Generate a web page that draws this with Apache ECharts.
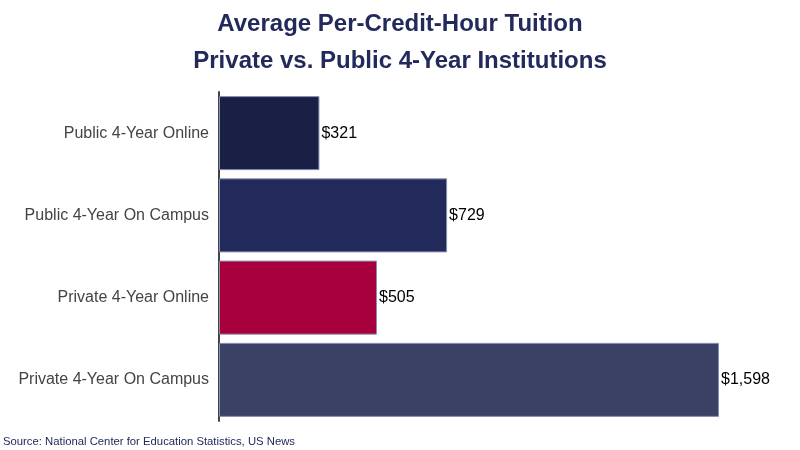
<!DOCTYPE html>
<html><head><meta charset="utf-8">
<script src="https://cdn.jsdelivr.net/npm/echarts@6/dist/echarts.min.js"></script>
<style>html,body{margin:0;padding:0;background:#fff}#c{width:800px;height:450px}</style>
</head><body><div id="c"></div>
<script>
const categories = ["Private 4-Year On Campus", "Private 4-Year Online", "Public 4-Year On Campus", "Public 4-Year Online"];
const values = [1598, 505, 729, 321];
const barColors = ["#3a4164", "#a8003c", "#222a5c", "#1a1f45"];
const titleLines = ["Average Per-Credit-Hour Tuition", "Private vs. Public 4-Year Institutions"];
const sourceText = "Source: National Center for Education Statistics, US News";

const chart = echarts.init(document.getElementById('c'));
chart.setOption({
  animation: false,
  backgroundColor: '#fff',
  title: [{
    text: titleLines.join('\n'),
    left: 'center', top: 6, padding: 0,
    textStyle: {fontFamily: 'Liberation Sans, Arial, sans-serif', fontSize: 24, fontWeight: 'bold', color: '#222a5c', lineHeight: 37}
  }, {
    text: sourceText, left: 3, top: 436, padding: 0,
    textStyle: {fontFamily: 'Liberation Sans, Arial, sans-serif', fontSize: 11.3, fontWeight: 'normal', color: '#222a5c'}
  }],
  grid: {left: 219, right: 81, top: 92, bottom: 29, containLabel: false},
  xAxis: {type: 'value', min: 0, max: 'dataMax', show: false},
  yAxis: {
    type: 'category', data: categories,
    axisLine: {show: true, lineStyle: {color: '#444', width: 2}},
    axisTick: {show: false},
    axisLabel: {fontFamily: 'Liberation Sans, Arial, sans-serif', fontSize: 16, color: '#444', margin: 10}
  },
  series: [{
    type: 'bar',
    data: values.map((v, i) => ({value: v, itemStyle: {color: barColors[i]}})),
    barCategoryGap: '10%',
    itemStyle: {borderColor: '#8a90b0', borderWidth: 1},
    label: {show: true, position: 'right', distance: 2, color: '#000', fontSize: 16,
      fontFamily: 'Liberation Sans, Arial, sans-serif',
      formatter: p => '$' + p.value.toLocaleString('en-US')}
  }]
});
</script></body></html>
